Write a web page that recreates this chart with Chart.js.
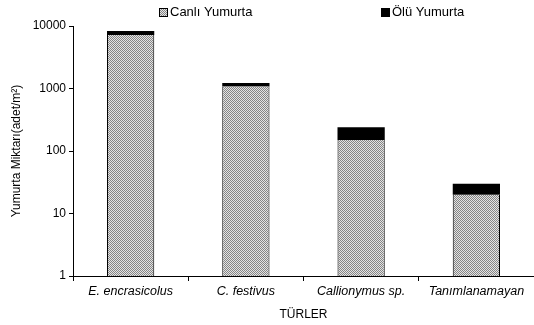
<!DOCTYPE html>
<html>
<head>
<meta charset="utf-8">
<script src="https://cdn.jsdelivr.net/npm/chart.js@4.4.1/dist/chart.umd.min.js"></script>
<style>
  html, body { margin: 0; padding: 0; background: #fff; }
  #wrap { width: 534px; height: 325px; position: relative; }
</style>
</head>
<body>
<div id="wrap"><canvas id="c" width="534" height="325"></canvas></div>
<script>
// Egg density by species (adet/m²), stacked: live + dead
const species = ['E. encrasicolus', 'C. festivus', 'Callionymus sp.', 'Tanımlanamayan'];
const liveEggs = [7200, 1080, 150, 20];
const deadEggs = [1100, 140, 90, 10];
const yTicks = [1, 10, 100, 1000, 10000];
const seriesNames = ['Canlı Yumurta', 'Ölü Yumurta'];

// fine checkerboard fill for the live-egg bars
function checkerPattern() {
  const p = document.createElement('canvas');
  p.width = 2; p.height = 2;
  const g = p.getContext('2d');
  g.fillStyle = '#e4e4e4'; g.fillRect(0, 0, 2, 2);
  g.fillStyle = '#858585'; g.fillRect(0, 0, 1, 1); g.fillRect(1, 1, 1, 1);
  return g.createPattern(p, 'repeat');
}
const ctx = document.getElementById('c').getContext('2d');
const checker = checkerPattern();

const FONT = "'Liberation Sans', Arial, sans-serif";

// legend drawn along the top with wide spacing
const topLegend = {
  id: 'topLegend',
  afterDraw(chart) {
    const c = chart.ctx;
    c.save();
    c.font = '13px ' + FONT;
    c.textBaseline = 'middle';
    const items = [
      { x: 159, fill: checker, label: seriesNames[0] },
      { x: 381, fill: '#000', label: seriesNames[1] }
    ];
    items.forEach(it => {
      c.fillStyle = it.fill;
      c.fillRect(it.x, 8, 8, 8);
      c.strokeStyle = '#000';
      c.lineWidth = 1;
      c.strokeRect(it.x + 0.5, 8.5, 8, 8);
      c.fillStyle = '#000';
      c.fillText(it.label, it.x + 11, 12.5);
    });
    c.restore();
  }
};

new Chart(ctx, {
  type: 'bar',
  data: {
    labels: species,
    datasets: [
      {
        label: seriesNames[0],
        data: liveEggs,
        backgroundColor: checker,
        borderColor: '#000',
        borderWidth: { left: 1, right: 1, top: 0, bottom: 0 },
        categoryPercentage: 1,
        barPercentage: 0.41
      },
      {
        label: seriesNames[1],
        data: deadEggs,
        backgroundColor: '#000',
        borderColor: '#000',
        borderWidth: 0,
        categoryPercentage: 1,
        barPercentage: 0.41
      }
    ]
  },
  options: {
    responsive: false,
    animation: false,
    layout: { padding: { top: 26, right: 0, left: 0, bottom: 0 } },
    plugins: {
      legend: { display: false },
      tooltip: { enabled: false }
    },
    scales: {
      x: {
        stacked: true,
        offset: true,
        border: { display: true, color: '#000', width: 1 },
        grid: { display: true, offset: true, drawOnChartArea: false, drawTicks: true, tickLength: 5, color: '#000' },
        ticks: {
          color: '#000',
          padding: 3,
          maxRotation: 0,
          font: { family: FONT, size: 12.5, style: 'italic' }
        },
        title: {
          display: true,
          text: 'TÜRLER',
          color: '#000',
          padding: { top: 4, bottom: 3 },
          font: { family: FONT, size: 12 }
        },
        afterFit(scale) { scale.height = 49; }
      },
      y: {
        type: 'logarithmic',
        stacked: true,
        min: 1,
        max: 10000,
        border: { display: true, color: '#000', width: 1 },
        grid: { display: true, drawOnChartArea: false, drawTicks: true, tickLength: 4, color: '#000' },
        afterBuildTicks(scale) { scale.ticks = yTicks.map(v => ({ value: v })); },
        ticks: {
          color: '#000',
          padding: 3,
          font: { family: FONT, size: 12 },
          callback: v => String(v)
        },
        title: {
          display: true,
          text: 'Yumurta Miktarı(adet/m²)',
          color: '#000',
          padding: { top: 9, bottom: 0 },
          font: { family: FONT, size: 12 }
        },
        afterFit(scale) { scale.width = 73; }
      }
    }
  },
  plugins: [topLegend]
});
</script>
</body>
</html>
